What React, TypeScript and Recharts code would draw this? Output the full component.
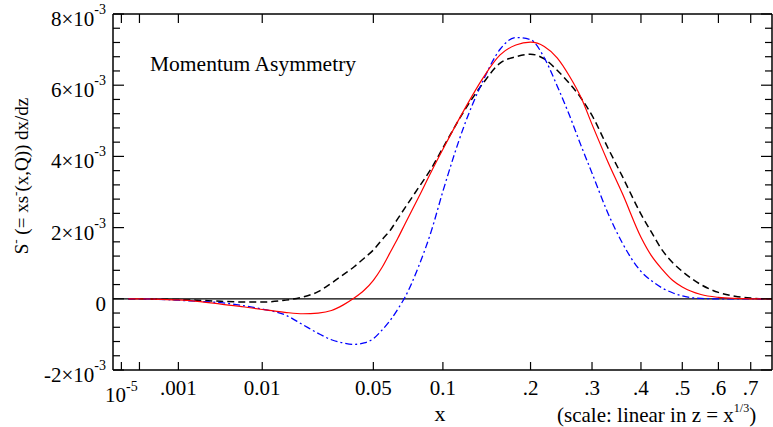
import React from 'react';
import { LineChart, Line, XAxis, YAxis, ReferenceLine } from 'recharts';

// x values (momentum fraction) at which the curves were read
const xValues = [3e-5, 1e-4, 3e-4, 0.001, 0.002, 0.004, 0.007, 0.01, 0.015, 0.02, 0.025, 0.03, 0.035, 0.04, 0.045, 0.05, 0.055, 0.06, 0.065, 0.07, 0.08, 0.09, 0.1, 0.12, 0.14, 0.16, 0.18, 0.2, 0.22, 0.24, 0.26, 0.28, 0.3, 0.33, 0.36, 0.4, 0.425, 0.45, 0.475, 0.5, 0.55, 0.6, 0.65, 0.7, 0.75, 0.77];

// values in units of 10^-3
const redSolid = [0, 0, -0.01, -0.03, -0.07, -0.15, -0.23, -0.3, -0.38, -0.42, -0.4, -0.33, -0.17, 0.02, 0.24, 0.52, 0.88, 1.3, 1.7, 2.11, 2.86, 3.57, 4.2, 5.3, 6.2, 6.85, 7.13, 7.21, 7.09, 6.77, 6.26, 5.66, 4.9, 3.86, 2.95, 1.73, 1.19, 0.82, 0.52, 0.33, 0.12, 0.04, 0.01, 0, 0, 0];
const blackDashed = [0, 0, -0.01, -0.02, -0.04, -0.07, -0.09, -0.09, -0.04, 0.05, 0.2, 0.44, 0.68, 0.9, 1.14, 1.37, 1.66, 1.92, 2.25, 2.56, 3.13, 3.66, 4.24, 5.27, 6.05, 6.62, 6.8, 6.87, 6.74, 6.42, 6.05, 5.64, 5.15, 4.25, 3.43, 2.38, 1.85, 1.36, 1.02, 0.77, 0.4, 0.18, 0.07, 0.02, 0, 0];
const blueDashDot = [0, 0, -0.01, -0.04, -0.07, -0.11, -0.2, -0.29, -0.45, -0.73, -0.97, -1.15, -1.24, -1.28, -1.24, -1.12, -0.88, -0.61, -0.29, 0.05, 0.92, 1.9, 3.02, 4.85, 6.12, 7.01, 7.34, 7.28, 6.77, 5.98, 5.16, 4.31, 3.53, 2.42, 1.56, 0.77, 0.5, 0.3, 0.17, 0.08, 0.01, 0, 0, 0, 0, 0];

const xTickValues = [1e-5, 1e-4, 0.001, 0.01, 0.05, 0.1, 0.2, 0.3, 0.4, 0.5, 0.6, 0.7];
const xTickLabels = ['10|-5', '', '.001', '0.01', '0.05', '0.1', '.2', '.3', '.4', '.5', '.6', '.7'];

const yTickValues = [-2, -1.6, -1.2, -0.8, -0.4, 0, 0.4, 0.8, 1.2, 1.6, 2, 2.4, 2.8, 3.2, 3.6, 4, 4.4, 4.8, 5.2, 5.6, 6, 6.4, 6.8, 7.2, 7.6, 8];
const yMajorValues = [-2, 0, 2, 4, 6, 8];
const yMajorLabels = ['-2×10|-3', '0', '2×10|-3', '4×10|-3', '6×10|-3', '8×10|-3'];

const Z_MIN = 0.01;
const Z_MAX = 0.9172;

const FONT = "'Liberation Serif', 'Times New Roman', serif";

const rows = xValues.map((x, i) => ({
  z: Math.cbrt(x),
  red: redSolid[i],
  black: blackDashed[i],
  blue: blueDashDot[i],
}));

const zTicks = xTickValues.map((x) => Math.cbrt(x));

const findIndex = (arr: number[], v: number) => {
  let best = 0;
  let bd = Infinity;
  arr.forEach((a, i) => {
    const d = Math.abs(a - v);
    if (d < bd) {
      bd = d;
      best = i;
    }
  });
  return best;
};

const renderSup = (label: string, supSize: number, supDy: number) => {
  const parts = label.split('|');
  if (parts.length === 1) return label;
  return (
    <>
      {parts[0]}
      <tspan dy={supDy} fontSize={supSize}>{parts[1]}</tspan>
    </>
  );
};

const BottomTick = (props: any) => {
  const { x, y, payload } = props;
  const i = findIndex(zTicks, payload.value);
  const label = xTickLabels[i];
  const isPow = label.includes('|');
  return (
    <g>
      <line x1={x} x2={x} y1={y} y2={y - 8} stroke="#000" strokeWidth={1.2} />
      {label !== '' && (
        <text x={x} y={y + (isPow ? 32 : 25)} textAnchor="middle" fontFamily={FONT} fontSize={21} fill="#000">
          {renderSup(label, 14, -11)}
        </text>
      )}
    </g>
  );
};

const TopTick = (props: any) => {
  const { x, y } = props;
  return <line x1={x} x2={x} y1={y} y2={y + 9} stroke="#000" strokeWidth={1.2} />;
};

const LeftTick = (props: any) => {
  const { x, y, payload } = props;
  const mi = yMajorValues.findIndex((v) => Math.abs(v - payload.value) < 1e-6);
  const isMajor = mi >= 0;
  return (
    <g>
      <line x1={x} x2={x + (isMajor ? 11 : 7)} y1={y} y2={y} stroke="#000" strokeWidth={1.2} />
      {isMajor && (
        <text x={x - 7} y={y + 12} textAnchor="end" fontFamily={FONT} fontSize={21} fill="#000">
          {renderSup(yMajorLabels[mi], 14, -12)}
        </text>
      )}
    </g>
  );
};

const RightTick = (props: any) => {
  const { x, y, payload } = props;
  const isMajor = yMajorValues.some((v) => Math.abs(v - payload.value) < 1e-6);
  return <line x1={x} x2={x - (isMajor ? 11 : 7)} y1={y} y2={y} stroke="#000" strokeWidth={1.2} />;
};

const XTitle = () => (
  <g>
    <text x={440} y={421} textAnchor="middle" fontFamily={FONT} fontSize={22} fill="#000">x</text>
    <text x={557} y={422} textAnchor="start" fontFamily={FONT} fontSize={21} fill="#000">
      (scale: linear in z = x
      <tspan dy={-10} fontSize={12}>1/3</tspan>
      <tspan dy={10} fontSize={21}>)</tspan>
    </text>
  </g>
);

const TopTitle = () => (
  <text x={150} y={71} textAnchor="start" fontFamily={FONT} fontSize={21.5} fill="#000">
    Momentum Asymmetry
  </text>
);

const YTitle = () => (
  <text
    transform="rotate(-90)"
    x={-176}
    y={28}
    textAnchor="middle"
    fontFamily={FONT}
    fontSize={19}
    fill="#000"
  >
    S
    <tspan dy={-8} fontSize={13}>-</tspan>
    <tspan dy={8} fontSize={19}> (= xs</tspan>
    <tspan dy={-8} fontSize={13}>-</tspan>
    <tspan dy={8} fontSize={19}>(x,Q)) dx/dz</tspan>
  </text>
);

export default function App() {
  return (
    <div style={{ position: 'absolute', left: 0, top: 0, width: 773, height: 427, background: '#fff', overflow: 'hidden' }}>
      <LineChart width={773} height={427} data={rows} margin={{ top: 0, right: 0, left: 0, bottom: 0 }}>
        <XAxis
          xAxisId="b"
          dataKey="z"
          type="number"
          domain={[Z_MIN, Z_MAX]}
          allowDataOverflow
          ticks={zTicks}
          interval={0}
          tickSize={0}
          tickMargin={0}
          tickLine={false}
          tick={BottomTick}
          axisLine={{ stroke: '#000', strokeWidth: 1.5 }}
          height={57}
          label={{ content: XTitle }}
        />
        <XAxis
          xAxisId="t"
          orientation="top"
          dataKey="z"
          type="number"
          domain={[Z_MIN, Z_MAX]}
          allowDataOverflow
          ticks={zTicks}
          interval={0}
          tickSize={0}
          tickMargin={0}
          tickLine={false}
          tick={TopTick}
          axisLine={{ stroke: '#000', strokeWidth: 1.5 }}
          height={14}
          label={{ content: TopTitle }}
        />
        <YAxis
          yAxisId="l"
          type="number"
          domain={[-2, 8]}
          allowDataOverflow
          ticks={yTickValues}
          interval={0}
          tickSize={0}
          tickMargin={0}
          tickLine={false}
          tick={LeftTick}
          axisLine={{ stroke: '#000', strokeWidth: 1.5 }}
          width={113}
          label={{ content: YTitle }}
        />
        <YAxis
          yAxisId="r"
          orientation="right"
          type="number"
          domain={[-2, 8]}
          allowDataOverflow
          ticks={yTickValues}
          interval={0}
          tickSize={0}
          tickMargin={0}
          tickLine={false}
          tick={RightTick}
          axisLine={{ stroke: '#000', strokeWidth: 1.5 }}
          width={1}
        />
        <ReferenceLine xAxisId="b" yAxisId="l" y={0} stroke="#000" strokeWidth={1.3} />
        <Line
          xAxisId="b"
          yAxisId="l"
          type="monotone"
          dataKey="black"
          stroke="#000"
          strokeWidth={1.5}
          strokeDasharray="7 4"
          dot={false}
          isAnimationActive={false}
        />
        <Line
          xAxisId="b"
          yAxisId="l"
          type="monotone"
          dataKey="blue"
          stroke="#0000ff"
          strokeWidth={1.3}
          strokeDasharray="7 3 2 3"
          dot={false}
          isAnimationActive={false}
        />
        <Line
          xAxisId="b"
          yAxisId="l"
          type="monotone"
          dataKey="red"
          stroke="#ff0000"
          strokeWidth={1.2}
          dot={false}
          isAnimationActive={false}
        />
      </LineChart>
    </div>
  );
}
